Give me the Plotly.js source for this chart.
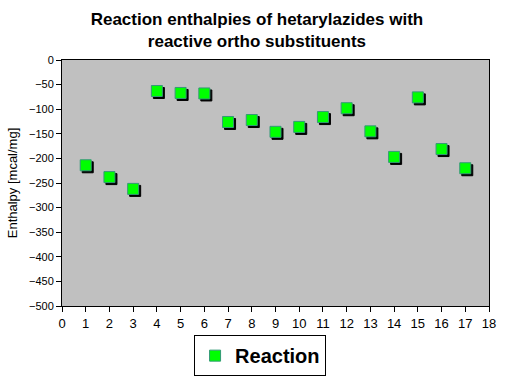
<!DOCTYPE html>
<html>
<head>
<meta charset="utf-8">
<script src="https://cdn.plot.ly/plotly-3.0.1.min.js"></script>
<style>
html,body{margin:0;padding:0;background:#fff;}
#chart{width:516px;height:383px;}
.scatterlayer .point{filter:drop-shadow(2px 2px 0 #000);}
</style>
</head>
<body>
<div id="chart"></div>
<script>
var compounds = [1, 2, 3, 4, 5, 6, 7, 8, 9, 10, 11, 12, 13, 14, 15, 16, 17];
var enthalpy = [-214, -238, -262, -63, -67, -68, -126, -122, -146, -136, -116, -98, -145, -197, -76, -181, -220];
var seriesName = "Reaction";
var chartTitle = "Reaction enthalpies of hetarylazides with<br>reactive ortho substituents";
var yTitle = "Enthalpy [mcal/mg]";

var F = "Arial, Liberation Sans, sans-serif";

var trace = {
  x: compounds,
  y: enthalpy,
  type: "scatter",
  mode: "markers",
  name: seriesName,
  showlegend: true,
  marker: {symbol: "square", size: 11, color: "#00ff00", line: {color: "#339977", width: 1}}
};

var layout = {
  width: 516, height: 383,
  margin: {l: 62, r: 27, t: 60, b: 77},
  paper_bgcolor: "#ffffff",
  plot_bgcolor: "#c0c0c0",
  title: {text: chartTitle, font: {family: F, size: 17, color: "#000", weight: "bold"}, x: 0.498, xref: "container", xanchor: "center", y: 0.935, yref: "container", yanchor: "middle"},
  xaxis: {range: [0, 18], dtick: 1, tick0: 0, showgrid: false, zeroline: false, showline: true, linecolor: "#000", linewidth: 1, mirror: true, ticks: "outside", ticklen: 5, tickcolor: "#000", tickfont: {family: F, size: 13, color: "#000"}, automargin: false},
  yaxis: {range: [-500, 0], dtick: 50, showgrid: false, zeroline: false, showline: true, linecolor: "#000", linewidth: 1, mirror: true, ticks: "outside", ticklen: 5, tickcolor: "#000", tickfont: {family: F, size: 11, color: "#000"}, automargin: false, title: {text: yTitle, font: {family: F, size: 13, color: "#000"}, standoff: 8}},
  showlegend: true,
  legend: {xref: "container", yref: "container", x: 0.504, xanchor: "center", y: 0.125, yanchor: "top", orientation: "h", bordercolor: "#000", borderwidth: 1, bgcolor: "#fff", font: {family: F, size: 20, color: "#000", weight: "bold"}}
};

Plotly.newPlot("chart", [trace], layout, {displayModeBar: false, staticPlot: true});
</script>
</body>
</html>
